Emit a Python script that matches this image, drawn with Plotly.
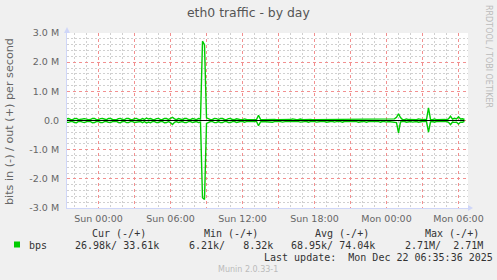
import pandas as pd
import plotly.graph_objects as go

# ---------------- data (kbit/s, 10-minute samples, Sat 21:20 -> Mon 06:30) ----------------
start_time = "2025-12-20 21:20:00"
out_k = [
    55, 70, 35, 30,                       # Sat 21:20-21:50
    65, 72, 30, 28, 50, 65,               # Sat 22
    35, 30, 32, 70, 72, 30,               # Sat 23
    30, 65, 68, 35, 30, 70,               # Sun 00
    72, 35, 30, 28, 65, 70,               # Sun 01
    32, 30, 70, 68, 35, 30,               # Sun 02
    65, 70, 32, 30, 68, 35,               # Sun 03
    85, 50, 70, 35, 30, 65,               # Sun 04
    70, 30, 35, 72, 68, 32,               # Sun 05
    70, 110, 55, 30, 65, 35,              # Sun 06
    30, 68, 70, 32, 30, 65,               # Sun 07
    35, 30, 65, 50, 2720, 2600,           # Sun 08
    90, 65, 30, 35, 70, 65,               # Sun 09
    32, 70, 68, 35, 30, 65,               # Sun 10
    68, 32, 30, 60, 35, 30,               # Sun 11
    30, 55, 35, 30, 32, 40,               # Sun 12
    35, 30, 180, 40, 30, 32,              # Sun 13
    50, 30, 32, 55, 35, 30,               # Sun 14
    30, 32, 50, 30, 28, 35,               # Sun 15
    32, 55, 30, 30, 35, 50,               # Sun 16
    30, 32, 30, 55, 35, 30,               # Sun 17
    30, 50, 32, 30, 35, 30,               # Sun 18
    55, 32, 30, 30, 50, 35,               # Sun 19
    30, 32, 55, 30, 35, 30,               # Sun 20
    50, 35, 30, 32, 55, 30,               # Sun 21
    30, 35, 55, 32, 30, 50,               # Sun 22
    32, 30, 35, 55, 30, 32,               # Sun 23
    50, 30, 35, 32, 55, 110,              # Mon 00
    230, 100, 35, 30, 55, 32,             # Mon 01
    30, 50, 32, 30, 55, 35,               # Mon 02
    30, 32, 30, 430, 40, 30,              # Mon 03
    55, 30, 32, 50, 30, 35,               # Mon 04
    30, 55, 150, 45, 75, 55,              # Mon 05
    130, 50, 60, 33.61,                   # Mon 06:00-06:30
]
in_k = [
    60, 65, 40, 35,
    70, 75, 35, 30, 55, 70,
    40, 35, 38, 75, 70, 35,
    35, 70, 72, 40, 35, 65,
    70, 40, 35, 32, 68, 75,
    35, 34, 72, 70, 40, 35,
    70, 65, 38, 35, 72, 40,
    85, 55, 75, 40, 35, 70,
    68, 35, 40, 75, 70, 38,
    75, 140, 60, 35, 70, 40,
    35, 72, 70, 38, 35, 70,
    40, 35, 70, 55, 2650, 2710,
    100, 70, 35, 40, 72, 68,
    38, 72, 70, 40, 35, 70,
    70, 38, 35, 65, 40, 35,
    35, 60, 40, 35, 38, 45,
    40, 35, 180, 45, 35, 38,
    55, 35, 38, 60, 40, 35,
    35, 38, 55, 35, 32, 40,
    38, 60, 35, 35, 40, 55,
    35, 38, 35, 60, 40, 35,
    35, 55, 38, 35, 40, 35,
    60, 38, 35, 35, 55, 40,
    35, 38, 60, 35, 40, 35,
    55, 40, 35, 38, 60, 35,
    35, 40, 60, 38, 35, 55,
    38, 35, 40, 60, 35, 38,
    55, 35, 40, 38, 60, 70,
    420, 50, 40, 35, 60, 38,
    35, 55, 38, 35, 60, 40,
    35, 38, 35, 400, 45, 35,
    60, 35, 38, 55, 35, 40,
    35, 60, 140, 50, 65, 60,
    120, 55, 60, 26.98,
]

y_tick_vals = [-3e6, -2e6, -1e6, 0, 1e6, 2e6, 3e6]
y_tick_text = ["-3.0 M", "-2.0 M", "-1.0 M", "0.0", "1.0 M", "2.0 M", "3.0 M"]
x_tick_vals = ["2025-12-21 00:00", "2025-12-21 03:00", "2025-12-21 06:00", "2025-12-21 09:00",
               "2025-12-21 12:00", "2025-12-21 15:00", "2025-12-21 18:00", "2025-12-21 21:00",
               "2025-12-22 00:00", "2025-12-22 03:00", "2025-12-22 06:00"]
x_tick_text = ["Sun 00:00", "", "Sun 06:00", "", "Sun 12:00", "", "Sun 18:00", "",
               "Mon 00:00", "", "Mon 06:00"]
x_range = ["2025-12-20 21:22:30", "2025-12-22 06:47:30"]

legend_headers = ["Cur (-/+)", "Min (-/+)", "Avg (-/+)", "Max (-/+)"]
legend_values = ["26.98k/ 33.61k", "6.21k/\u00a0\u00a0 8.32k", "68.95k/ 74.04k", "2.71M/\u00a0 2.71M"]
series_name = "bps"
title_text = "eth0 traffic - by day"
ytitle_text = "bits in (-) / out (+) per second"
last_update = "Last update:\u00a0 Mon Dec 22 06:35:36 2025"
version_text = "Munin 2.0.33-1"
watermark_text = "RRDTOOL / TOBI OETIKER"

# ---------------- figure ----------------
W, H = 497, 280
L, R, T, B = 67, 468, 33, 208
times = pd.date_range(start_time, periods=len(out_k), freq="10min")

# minor grid positions (hourly / 0.2 M), skipping those that coincide with major lines
x_minor = [t for t in pd.date_range("2025-12-20 22:00", "2025-12-22 06:00", freq="1h") if t.hour % 3 != 0]
y_minor = [k * 200000 for k in range(-15, 16) if k % 5 != 0]

GREEN = "#00CC00"
FONT_COL = "#666666"
AXIS_COL = "#CFD6F8"
MGRID = "#F29090"
GRID = "#D0D0D0"

fig = go.Figure()
fig.add_trace(go.Scatter(x=times, y=[-v * 1000 for v in in_k], mode="lines",
                         line=dict(color=GREEN, width=1.4), hoverinfo="skip"))
fig.add_trace(go.Scatter(x=times, y=[v * 1000 for v in out_k], mode="lines",
                         line=dict(color=GREEN, width=1.4), hoverinfo="skip"))
fig.add_trace(go.Scatter(x=times, y=[0] * len(times), mode="lines",
                         line=dict(color="#000000", width=1), hoverinfo="skip"))


def px(x):
    return (x - L) / (R - L)


def py(y):
    return (B - y) / (B - T)


mono = "DejaVu Sans Mono"
sans = "DejaVu Sans"
ann = []
ann.append(dict(text=title_text, x=px(248), y=py(13), xanchor="center", yanchor="middle",
                font=dict(family=sans, size=12.4, color="#555555")))
ann.append(dict(text=ytitle_text, x=px(9), y=py(122), xanchor="center", yanchor="middle",
                textangle=-90, font=dict(family=sans, size=11.2, color=FONT_COL)))
hx = [90, 201.7, 312.7, 423.3]
for xx, t in zip(hx, legend_headers):
    ann.append(dict(text=t, x=px(xx), y=py(233.5), xanchor="left", yanchor="middle",
                    font=dict(family=mono, size=10, color="#333333")))
vx = [72.7, 186.7, 289.3, 403.3]
for xx, t in zip(vx, legend_values):
    ann.append(dict(text=t, x=px(xx), y=py(245.5), xanchor="left", yanchor="middle",
                    font=dict(family=mono, size=10, color="#333333")))
ann.append(dict(text=series_name, x=px(26.5), y=py(245.5), xanchor="left", yanchor="middle",
                font=dict(family=mono, size=10, color="#333333")))
ann.append(dict(text=last_update, x=px(261.7), y=py(257.5), xanchor="left", yanchor="middle",
                font=dict(family=mono, size=10, color="#333333")))
ann.append(dict(text=version_text, x=px(248.3), y=py(269.5), xanchor="center", yanchor="middle",
                font=dict(family=sans, size=8, color="#BBBBBB")))
ann.append(dict(text=watermark_text, x=px(488.5), y=py(56.5), xanchor="center", yanchor="middle",
                textangle=90, font=dict(family=sans, size=8, color="#BBBBBB")))
for a in ann:
    a.update(xref="paper", yref="paper", showarrow=False)

shapes = [
    # legend colour box
    dict(type="rect", xref="paper", yref="paper", x0=px(14), x1=px(20), y0=py(241.5), y1=py(247.5),
         fillcolor=GREEN, line=dict(width=0)),
    # axis arrows
    dict(type="path", xref="paper", yref="paper",
         path=f"M {px(R)} {py(205)} L {px(473)} {py(208)} L {px(R)} {py(211)} Z",
         fillcolor=AXIS_COL, line=dict(width=0)),
    dict(type="path", xref="paper", yref="paper",
         path=f"M {px(64)} {py(B - 175)} L {px(67)} {py(27)} L {px(70)} {py(B - 175)} Z",
         fillcolor=AXIS_COL, line=dict(width=0)),
]

fig.update_layout(
    width=W, height=H,
    margin=dict(l=L, r=W - R, t=T, b=H - B, pad=0),
    paper_bgcolor="#F0F0F0", plot_bgcolor="#FFFFFF",
    showlegend=False,
    annotations=ann, shapes=shapes,
)
fig.update_xaxes(
    type="date", range=x_range, tickmode="array", tickvals=x_tick_vals, ticktext=x_tick_text,
    showgrid=True, gridcolor=MGRID, griddash="dot", gridwidth=1,
    minor=dict(tickmode="array", tickvals=x_minor, showgrid=True,
               gridcolor=GRID, griddash="2px,2px", gridwidth=1),
    showline=True, linecolor=AXIS_COL, linewidth=1, ticks="", zeroline=False,
    tickfont=dict(family=sans, size=9.5, color=FONT_COL), ticklabelstandoff=2,
)
fig.update_yaxes(
    range=[-3.0e6, 3.0e6], tickmode="array", tickvals=y_tick_vals, ticktext=y_tick_text,
    showgrid=True, gridcolor=MGRID, griddash="dot", gridwidth=1,
    minor=dict(tickmode="array", tickvals=y_minor, showgrid=True,
               gridcolor=GRID, griddash="2px,2px", gridwidth=1),
    showline=True, linecolor=AXIS_COL, linewidth=1, ticks="", zeroline=False,
    tickfont=dict(family=sans, size=9.5, color=FONT_COL), ticklabelstandoff=5,
)

fig.write_html("out.html")
